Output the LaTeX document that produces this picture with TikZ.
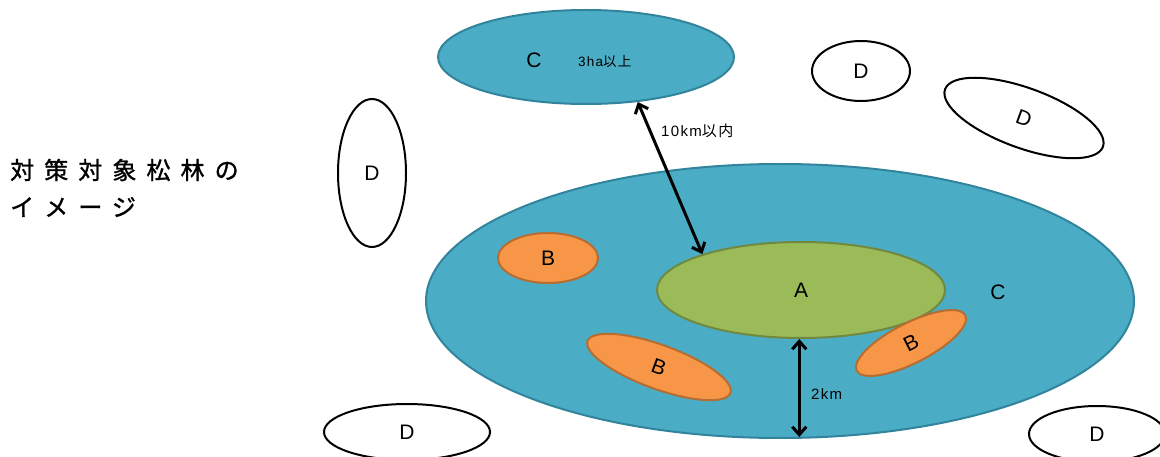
\documentclass[tikz,border=0pt]{standalone}
\usepackage{fontspec}
\setmainfont{Liberation Sans}
\newfontfamily\lbf[LetterSpace=9]{Liberation Sans}
\newfontfamily\jpl[LetterSpace=9]{Noto Sans CJK JP}
\newfontfamily\jpt[LetterSpace=42,FakeBold=1.2]{Noto Sans CJK JP}
\usetikzlibrary{shapes.geometric,arrows.meta}
\definecolor{cfill}{HTML}{4BACC6}
\definecolor{cdraw}{HTML}{31849B}
\definecolor{afill}{HTML}{9BBB59}
\definecolor{adraw}{HTML}{71893F}
\definecolor{bfill}{HTML}{F79646}
\definecolor{bdraw}{HTML}{B66D31}
\tikzset{
  ell/.style={ellipse, inner sep=0pt, line width=2pt, font=\fontsize{21}{23}\selectfont},
  cell/.style={ell, fill=cfill, draw=cdraw},
  aell/.style={ell, fill=afill, draw=adraw},
  bell/.style={ell, fill=bfill, draw=bdraw},
  dell/.style={ell, fill=white, draw=black},
  dim/.style={line width=3pt, {Straight Barb[length=8pt,width=14pt]}-{Straight Barb[length=8pt,width=14pt]}},
  lbl/.style={font=\fontsize{15}{17}\selectfont\lbf, anchor=west, inner sep=0pt}
}
\begin{document}
\begin{tikzpicture}[x=1pt,y=-1pt]
\useasboundingbox (0,0) rectangle (1160,457);
% big C
\node[cell, minimum width=708pt, minimum height=274pt] (bigC) at (780,301) {};
\node[font=\fontsize{21}{23}\selectfont] (lC) at (998,292) {C};
% A
\node[aell, minimum width=288pt, minimum height=96pt] (A) at (801,290) {A};
% B ellipses
\node[bell, minimum width=100pt, minimum height=50pt] (B1) at (548,258) {B};
\node[bell, minimum width=152pt, minimum height=44pt, rotate=-20] (B2) at (659,367) {B};
\node[bell, minimum width=122pt, minimum height=40pt, rotate=27] (B3) at (911,343) {B};
% top C
\node[cell, minimum width=296pt, minimum height=94pt] (topC) at (586,57) {};
\node[font=\fontsize{21}{23}\selectfont] (tC) at (534,60) {C};
\node[lbl, font=\fontsize{13.5}{15}\selectfont\lbf, anchor=west] (ha) at (578,61) {3ha\jpl 以上};
% D ellipses
\node[dell, minimum width=68pt, minimum height=148pt] (D1) at (372,173) {D};
\node[dell, minimum width=98pt, minimum height=60pt] (D2) at (861,71) {D};
\node[dell, minimum width=168pt, minimum height=60pt, rotate=-20] (D3) at (1024,118) {D};
\node[dell, minimum width=166pt, minimum height=56pt] (D4) at (407,432) {D};
\node[dell, minimum width=136pt, minimum height=56pt] (D5) at (1097,434) {D};
% arrows
\draw[dim] (topC.-41) -- (A.160);
\node[lbl] (l10) at (661,131) {10km\jpl 以内};
\coordinate (p2) at (797,437);
\draw[dim] (A.-92) -- (A.-92 |- p2);
\node[lbl] (l2) at (811,394) {2km};
% title
\node[anchor=west, inner sep=0pt, font=\fontsize{24}{26}\selectfont\jpt] (t1) at (10,170) {対策対象松林の};
\node[anchor=west, inner sep=0pt, font=\fontsize{24}{26}\selectfont\jpt] (t2) at (10,207) {イメージ};
\end{tikzpicture}
\end{document}
